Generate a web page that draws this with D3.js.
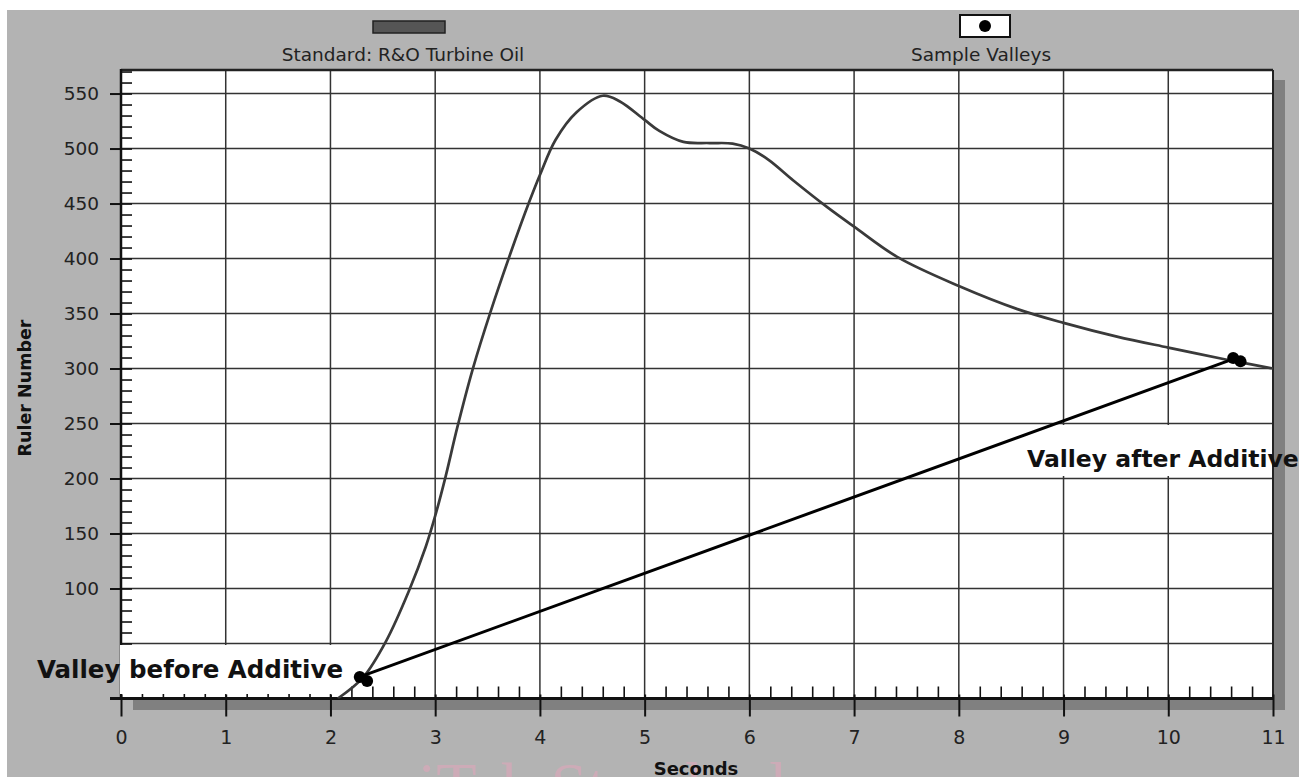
<!DOCTYPE html>
<html><head><meta charset="utf-8">
<script src="https://cdn.jsdelivr.net/npm/d3@7"></script>
<style>html,body{margin:0;padding:0;background:#fff;}svg{display:block;}</style>
</head><body>
<script>
// ---- data ----
const standardX = [2.07, 2.31, 2.53, 2.75, 2.91, 3.0, 3.10, 3.21, 3.36, 3.53, 3.72, 3.90, 4.0, 4.15, 4.35, 4.60, 4.76, 5.0, 5.14, 5.37, 5.62, 5.84, 6.0, 6.18, 6.42, 6.74, 7.0, 7.42, 8.0, 8.56, 9.0, 9.51, 10.0, 10.56, 11.0];
const standardY = [0, 19, 52, 98, 138, 166, 202, 246, 300, 352, 405, 452, 476, 508, 533, 548, 543, 526, 516, 506, 505, 504.5, 500, 490, 471, 447, 429, 401, 375, 354, 341.5, 329, 319, 308, 300];
const valleyX = [2.28, 2.35, 10.62, 10.69];
const valleyY = [19.5, 16, 309.5, 306.5];
const valleyLineX = [2.32, 10.63];
const valleyLineY = [21, 309];
const xTicks = [0,1,2,3,4,5,6,7,8,9,10,11];
const yTicks = [100,150,200,250,300,350,400,450,500,550];
const yGrid = [50,100,150,200,250,300,350,400,450,500,550];
const xGrid = [1,2,3,4,5,6,7,8,9,10];
const legendLabels = ["Standard: R&O Turbine Oil", "Sample Valleys"];
const annotations = ["Valley before Additive", "Valley after Additive"];
const xTitle = "Seconds", yTitle = "Ruler Number";

const W = 1299, H = 777;
const L = 121, R = 1273, T = 70, B = 698.5;
const svg = d3.select("body").append("svg").attr("width", W).attr("height", H);
const FONT = "DejaVu Sans";

const x = d3.scaleLinear().domain([0, 11]).range([L, R]);
const y = d3.scaleLinear().domain([0, 571.4]).range([B, T]);

// background
svg.append("rect").attr("x", 7).attr("y", 10).attr("width", W - 7).attr("height", H - 10).attr("fill", "#b3b3b3");

// watermark
svg.append("text").attr("x", 418).attr("y", 808).attr("font-family", "Liberation Serif").attr("font-size", 66)
  .attr("fill", "#e3a6bb").attr("opacity", 0.55).text("iTeh Standards");

// shadow
svg.append("rect").attr("x", R).attr("y", 80).attr("width", 12).attr("height", 630).attr("fill", "#808080");
svg.append("rect").attr("x", 133).attr("y", B).attr("width", R + 12 - 133).attr("height", 11.5).attr("fill", "#808080");

// plot area
svg.append("rect").attr("x", L).attr("y", T).attr("width", R - L).attr("height", B - T).attr("fill", "#fff");

// grid
const grid = svg.append("g").attr("stroke", "#333").attr("stroke-width", 1.5);
grid.selectAll("line.h").data(yGrid).join("line").attr("class", "h")
  .attr("x1", L).attr("x2", R).attr("y1", d => y(d)).attr("y2", d => y(d));
grid.selectAll("line.v").data(xGrid).join("line").attr("class", "v")
  .attr("y1", T).attr("y2", B).attr("x1", d => x(d)).attr("x2", d => x(d));

// minor ticks
const yMinor = d3.range(10, 571, 10);
const yMin = svg.append("g").attr("transform", `translate(${L},0)`)
  .call(d3.axisRight(y).tickValues(yMinor).tickSize(11).tickFormat(""));
yMin.select(".domain").remove();
yMin.selectAll("line").attr("stroke", "#111").attr("stroke-width", 1.6);

const xMinor = d3.range(0, 55).map(i => +(i * 0.2).toFixed(1)).filter(v => Math.abs(v - Math.round(v)) > 1e-6);
const xMin = svg.append("g").attr("transform", `translate(0,${B})`)
  .call(d3.axisTop(x).tickValues(xMinor).tickSize(12).tickFormat(""));
xMin.select(".domain").remove();
xMin.selectAll("line").attr("stroke", "#111").attr("stroke-width", 1.6);

// frame
svg.append("line").attr("x1", L).attr("x2", R).attr("y1", T).attr("y2", T).attr("stroke", "#222").attr("stroke-width", 2.5);
svg.append("line").attr("x1", R).attr("x2", R).attr("y1", T).attr("y2", B).attr("stroke", "#222").attr("stroke-width", 2);
svg.append("line").attr("x1", L).attr("x2", L).attr("y1", T - 1).attr("y2", B).attr("stroke", "#111").attr("stroke-width", 2.5);

// y axis major
const yAx = svg.append("g").attr("transform", `translate(${L},0)`)
  .call(d3.axisLeft(y).tickValues(yTicks).tickSize(11).tickPadding(11));
yAx.select(".domain").remove();
yAx.selectAll("line").attr("stroke", "#111").attr("stroke-width", 2);
yAx.selectAll("text").attr("font-family", FONT).attr("font-size", 18.5).attr("fill", "#222");

// x axis major
const xAx = svg.append("g").attr("transform", `translate(0,${B})`)
  .call(d3.axisBottom(x).tickValues(xTicks).tickSize(18).tickPadding(14));
xAx.select(".domain").remove();
xAx.selectAll("line").attr("stroke", "#111").attr("stroke-width", 2).attr("y1", -4);
xAx.selectAll("text").attr("font-family", FONT).attr("font-size", 19).attr("fill", "#222");
svg.append("line").attr("x1", 110).attr("x2", R).attr("y1", B).attr("y2", B).attr("stroke", "#111").attr("stroke-width", 3);

// annotation boxes
svg.append("rect").attr("x", L - 1).attr("y", 645).attr("width", 350 - L).attr("height", 49).attr("fill", "#fff");
svg.append("rect").attr("x", 1022).attr("y", 425).attr("width", R - 1022 - 1).attr("height", 51).attr("fill", "#fff");
svg.append("text").attr("x", 343).attr("y", 678).attr("text-anchor", "end").attr("font-family", FONT).attr("font-weight", "bold").attr("font-size", 24.5)
  .attr("fill", "#111").text(annotations[0]);
svg.append("text").attr("x", 1027).attr("y", 467).attr("font-family", FONT).attr("font-weight", "bold").attr("font-size", 23.5)
  .attr("fill", "#111").text(annotations[1]);

// standard curve
svg.append("clipPath").attr("id", "clip").append("rect").attr("x", L).attr("y", T).attr("width", R - L).attr("height", B - T);
const line = d3.line().x(d => x(d[0])).y(d => y(d[1])).curve(d3.curveCatmullRom.alpha(0.5));
svg.append("path").attr("clip-path", "url(#clip)").datum(standardX.map((v, i) => [v, standardY[i]]))
  .attr("d", line).attr("fill", "none").attr("stroke", "#3a3a3a").attr("stroke-width", 2.7);

// valley line
svg.append("path").datum(valleyLineX.map((v, i) => [v, valleyLineY[i]]))
  .attr("d", d3.line().x(d => x(d[0])).y(d => y(d[1]))).attr("fill", "none").attr("stroke", "#000").attr("stroke-width", 3);
svg.selectAll("circle.v").data(valleyX.map((v, i) => [v, valleyY[i]])).join("circle").attr("class", "v")
  .attr("cx", d => x(d[0])).attr("cy", d => y(d[1])).attr("r", 6).attr("fill", "#000");

// legend
svg.append("rect").attr("x", 373).attr("y", 21).attr("width", 72).attr("height", 12).attr("fill", "#555").attr("stroke", "#222").attr("stroke-width", 1.5);
svg.append("text").attr("x", 403).attr("y", 61).attr("text-anchor", "middle").attr("font-family", FONT).attr("font-size", 18.5).attr("fill", "#222").text(legendLabels[0]);
svg.append("rect").attr("x", 960).attr("y", 15).attr("width", 50).attr("height", 22).attr("fill", "#fff").attr("stroke", "#111").attr("stroke-width", 2);
svg.append("circle").attr("cx", 985).attr("cy", 26).attr("r", 6).attr("fill", "#000");
svg.append("text").attr("x", 981).attr("y", 61).attr("text-anchor", "middle").attr("font-family", FONT).attr("font-size", 18.5).attr("fill", "#222").text(legendLabels[1]);

// axis titles
svg.append("text").attr("x", 696).attr("y", 775).attr("text-anchor", "middle").attr("font-family", FONT).attr("font-weight", "bold").attr("font-size", 18).attr("fill", "#111").text(xTitle);
svg.append("text").attr("transform", "translate(31,388) rotate(-90)").attr("text-anchor", "middle").attr("font-family", FONT).attr("font-weight", "bold").attr("font-size", 17.5).attr("fill", "#111").text(yTitle);
</script>
</body></html>
